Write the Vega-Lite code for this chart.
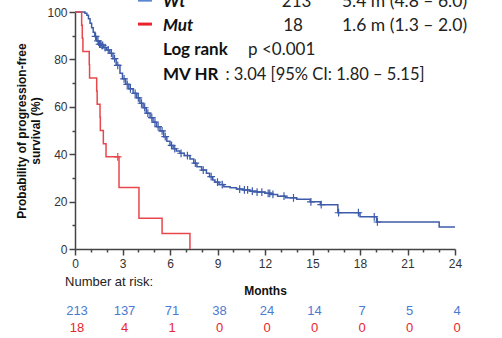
{
  "$schema": "https://vega.github.io/schema/vega-lite/v6.json",
  "autosize": {"type": "none"},
  "padding": {"left": 75, "top": 12, "right": 47, "bottom": 89},
  "background": "white",
  "width": 380,
  "height": 237,
  "config": {"view": {"stroke": null}, "axis": {"grid": false, "labelOverlap": false}},
  "resolve": {"axis": {"x": "independent", "y": "independent"}},
  "datasets": {
    "km": [
      {"group": "Wt", "month": 0, "surv": 100},
      {"group": "Wt", "month": 0.63, "surv": 99.5},
      {"group": "Wt", "month": 0.75, "surv": 98.6},
      {"group": "Wt", "month": 0.85, "surv": 97.2},
      {"group": "Wt", "month": 0.95, "surv": 95.3},
      {"group": "Wt", "month": 1.05, "surv": 93.4},
      {"group": "Wt", "month": 1.15, "surv": 91.5},
      {"group": "Wt", "month": 1.25, "surv": 89.7},
      {"group": "Wt", "month": 1.37, "surv": 87.8},
      {"group": "Wt", "month": 1.5, "surv": 86.4},
      {"group": "Wt", "month": 1.65, "surv": 85.9},
      {"group": "Wt", "month": 1.8, "surv": 85.0},
      {"group": "Wt", "month": 2.0, "surv": 84.0},
      {"group": "Wt", "month": 2.2, "surv": 82.6},
      {"group": "Wt", "month": 2.4, "surv": 80.3},
      {"group": "Wt", "month": 2.6, "surv": 77.5},
      {"group": "Wt", "month": 2.84, "surv": 74.2},
      {"group": "Wt", "month": 3.0, "surv": 71.8},
      {"group": "Wt", "month": 3.2, "surv": 69.5},
      {"group": "Wt", "month": 3.4, "surv": 67.6},
      {"group": "Wt", "month": 3.67, "surv": 65.7},
      {"group": "Wt", "month": 3.9, "surv": 63.8},
      {"group": "Wt", "month": 4.1, "surv": 61.5},
      {"group": "Wt", "month": 4.3, "surv": 59.6},
      {"group": "Wt", "month": 4.5, "surv": 57.3},
      {"group": "Wt", "month": 4.74, "surv": 55.4},
      {"group": "Wt", "month": 4.93, "surv": 53.5},
      {"group": "Wt", "month": 5.15, "surv": 51.6},
      {"group": "Wt", "month": 5.37, "surv": 49.8},
      {"group": "Wt", "month": 5.6, "surv": 47.4},
      {"group": "Wt", "month": 5.8, "surv": 45.5},
      {"group": "Wt", "month": 6.0, "surv": 43.7},
      {"group": "Wt", "month": 6.2, "surv": 42.3},
      {"group": "Wt", "month": 6.4, "surv": 41.3},
      {"group": "Wt", "month": 6.63, "surv": 40.4},
      {"group": "Wt", "month": 6.9, "surv": 39.4},
      {"group": "Wt", "month": 7.26, "surv": 38.0},
      {"group": "Wt", "month": 7.5, "surv": 36.2},
      {"group": "Wt", "month": 7.7, "surv": 34.7},
      {"group": "Wt", "month": 8.0, "surv": 33.3},
      {"group": "Wt", "month": 8.3, "surv": 32.0},
      {"group": "Wt", "month": 8.5, "surv": 30.5},
      {"group": "Wt", "month": 8.7, "surv": 29.1},
      {"group": "Wt", "month": 8.84, "surv": 28.2},
      {"group": "Wt", "month": 9.1, "surv": 27.2},
      {"group": "Wt", "month": 9.4, "surv": 26.3},
      {"group": "Wt", "month": 9.8, "surv": 25.8},
      {"group": "Wt", "month": 10.2, "surv": 25.3},
      {"group": "Wt", "month": 10.6, "surv": 24.9},
      {"group": "Wt", "month": 11.05, "surv": 24.4},
      {"group": "Wt", "month": 11.5, "surv": 24.0},
      {"group": "Wt", "month": 12.0, "surv": 23.5},
      {"group": "Wt", "month": 12.4, "surv": 23.0},
      {"group": "Wt", "month": 12.8, "surv": 22.3},
      {"group": "Wt", "month": 13.3, "surv": 21.6},
      {"group": "Wt", "month": 14.0, "surv": 21.0},
      {"group": "Wt", "month": 14.85, "surv": 19.9},
      {"group": "Wt", "month": 15.5, "surv": 18.7},
      {"group": "Wt", "month": 16.6, "surv": 15.3},
      {"group": "Wt", "month": 18.0, "surv": 13.6},
      {"group": "Wt", "month": 19.05, "surv": 11.4},
      {"group": "Wt", "month": 23.0, "surv": 9.3},
      {"group": "Wt", "month": 24.0, "surv": 9.3},
      {"group": "Mut", "month": 0, "surv": 100},
      {"group": "Mut", "month": 0.42, "surv": 94.4},
      {"group": "Mut", "month": 0.46, "surv": 88.9},
      {"group": "Mut", "month": 0.5, "surv": 83.3},
      {"group": "Mut", "month": 0.9, "surv": 77.8},
      {"group": "Mut", "month": 0.92, "surv": 72.2},
      {"group": "Mut", "month": 1.37, "surv": 66.7},
      {"group": "Mut", "month": 1.4, "surv": 61.1},
      {"group": "Mut", "month": 1.58, "surv": 55.6},
      {"group": "Mut", "month": 1.6, "surv": 50.0},
      {"group": "Mut", "month": 1.79, "surv": 44.4},
      {"group": "Mut", "month": 1.96, "surv": 38.9},
      {"group": "Mut", "month": 2.78, "surv": 25.9},
      {"group": "Mut", "month": 4.04, "surv": 13.0},
      {"group": "Mut", "month": 5.5, "surv": 6.5},
      {"group": "Mut", "month": 7.26, "surv": 0}
    ],
    "censor": [
      {"group": "Wt", "month": 1.3, "surv": 89.7},
      {"group": "Wt", "month": 1.45, "surv": 87.8},
      {"group": "Wt", "month": 1.55, "surv": 86.4},
      {"group": "Wt", "month": 1.6, "surv": 86.4},
      {"group": "Wt", "month": 1.7, "surv": 85.9},
      {"group": "Wt", "month": 1.75, "surv": 85.9},
      {"group": "Wt", "month": 1.9, "surv": 85.0},
      {"group": "Wt", "month": 2.1, "surv": 84.0},
      {"group": "Wt", "month": 2.3, "surv": 82.6},
      {"group": "Wt", "month": 2.5, "surv": 80.3},
      {"group": "Wt", "month": 2.7, "surv": 77.5},
      {"group": "Wt", "month": 3.1, "surv": 71.8},
      {"group": "Wt", "month": 3.3, "surv": 69.5},
      {"group": "Wt", "month": 3.5, "surv": 67.6},
      {"group": "Wt", "month": 3.8, "surv": 65.7},
      {"group": "Wt", "month": 4.0, "surv": 63.8},
      {"group": "Wt", "month": 4.2, "surv": 61.5},
      {"group": "Wt", "month": 4.4, "surv": 59.6},
      {"group": "Wt", "month": 4.6, "surv": 57.3},
      {"group": "Wt", "month": 4.85, "surv": 55.4},
      {"group": "Wt", "month": 5.05, "surv": 53.5},
      {"group": "Wt", "month": 5.25, "surv": 51.6},
      {"group": "Wt", "month": 5.5, "surv": 49.8},
      {"group": "Wt", "month": 5.7, "surv": 47.4},
      {"group": "Wt", "month": 6.1, "surv": 43.7},
      {"group": "Wt", "month": 6.3, "surv": 42.3},
      {"group": "Wt", "month": 6.7, "surv": 40.4},
      {"group": "Wt", "month": 7.1, "surv": 39.4},
      {"group": "Wt", "month": 7.6, "surv": 36.2},
      {"group": "Wt", "month": 8.1, "surv": 33.3},
      {"group": "Wt", "month": 8.6, "surv": 30.5},
      {"group": "Wt", "month": 9.0, "surv": 28.2},
      {"group": "Wt", "month": 9.3, "surv": 27.2},
      {"group": "Wt", "month": 10.4, "surv": 25.3},
      {"group": "Wt", "month": 10.7, "surv": 24.9},
      {"group": "Wt", "month": 10.9, "surv": 24.9},
      {"group": "Wt", "month": 11.2, "surv": 24.4},
      {"group": "Wt", "month": 11.5, "surv": 24.0},
      {"group": "Wt", "month": 11.8, "surv": 24.0},
      {"group": "Wt", "month": 12.2, "surv": 23.5},
      {"group": "Wt", "month": 12.3, "surv": 23.5},
      {"group": "Wt", "month": 12.5, "surv": 23.0},
      {"group": "Wt", "month": 13.2, "surv": 22.3},
      {"group": "Wt", "month": 13.8, "surv": 21.6},
      {"group": "Wt", "month": 14.9, "surv": 19.9},
      {"group": "Wt", "month": 15.55, "surv": 18.7},
      {"group": "Wt", "month": 16.65, "surv": 15.3},
      {"group": "Wt", "month": 17.9, "surv": 15.3},
      {"group": "Wt", "month": 18.9, "surv": 13.6},
      {"group": "Wt", "month": 19.1, "surv": 11.4},
      {"group": "Mut", "month": 2.7, "surv": 38.9}
    ],
    "risk": [
      {"group": "Wt", "month": 0, "n": 213},
      {"group": "Wt", "month": 3, "n": 137},
      {"group": "Wt", "month": 6, "n": 71},
      {"group": "Wt", "month": 9, "n": 38},
      {"group": "Wt", "month": 12, "n": 24},
      {"group": "Wt", "month": 15, "n": 14},
      {"group": "Wt", "month": 18, "n": 7},
      {"group": "Wt", "month": 21, "n": 5},
      {"group": "Wt", "month": 24, "n": 4},
      {"group": "Mut", "month": 0, "n": 18},
      {"group": "Mut", "month": 3, "n": 4},
      {"group": "Mut", "month": 6, "n": 1},
      {"group": "Mut", "month": 9, "n": 0},
      {"group": "Mut", "month": 12, "n": 0},
      {"group": "Mut", "month": 15, "n": 0},
      {"group": "Mut", "month": 18, "n": 0},
      {"group": "Mut", "month": 21, "n": 0},
      {"group": "Mut", "month": 24, "n": 0}
    ]
  },
  "layer": [
    {
      "data": {"name": "km"},
      "mark": {"type": "line", "interpolate": "step-after", "strokeWidth": 1.5, "clip": false},
      "encoding": {
        "x": {
          "field": "month", "type": "quantitative",
          "scale": {"domain": [0, 24], "nice": false},
          "axis": {
            "orient": "bottom",
            "values": [0,3,6,9,12,15,18,21,24],
            "labelOverlap": false,
            "tickSize": 6,
            "tickColor": "#444", "domainColor": "#444", "tickWidth": 1.5, "domainWidth": 1.5,
            "labelFont": "Liberation Sans", "labelFontSize": 12, "labelColor": "#333", "labelPadding": 3, "labelFlush": false,
            "title": "Months", "titleFont": "Liberation Sans", "titleFontSize": 12, "titleFontWeight": "bold", "titleColor": "#111", "titlePadding": 16
          }
        },
        "y": {
          "field": "surv", "type": "quantitative",
          "scale": {"domain": [0, 100], "nice": false},
          "axis": {
            "orient": "left",
            "values": [0,20,40,60,80,100],
            "labelOverlap": false,
            "tickSize": 6,
            "tickColor": "#444", "domainColor": "#444", "tickWidth": 1.5, "domainWidth": 1.5,
            "labelFont": "Liberation Sans", "labelFontSize": 12, "labelColor": "#333", "labelPadding": 2,
            "title": ["Probability of progression-free", "survival (%)"],
            "titleFont": "Liberation Sans", "titleFontSize": 12, "titleFontWeight": "bold", "titleColor": "#111", "titlePadding": 4, "titleLineHeight": 14
          }
        },
        "color": {"field": "group", "type": "nominal", "scale": {"domain": ["Wt", "Mut"], "range": ["#3f5cab", "#e8474c"]}, "legend": null}
      }
    },
    {
      "data": {"name": "censor"},
      "mark": {"type": "point", "shape": "M0,-1L0,1M-1,0L1,0", "filled": false, "size": 60, "strokeWidth": 1.2, "opacity": 1},
      "encoding": {
        "x": {
          "field": "month", "type": "quantitative",
          "axis": {"orient": "bottom", "values": [1,2,4,5,7,8,10,11,13,14,16,17,19,20,22,23], "tickSize": 3, "tickColor": "#444", "tickWidth": 1.5, "labels": false, "domain": false, "title": null}
        },
        "y": {
          "field": "surv", "type": "quantitative",
          "axis": {"orient": "left", "values": [10,30,50,70,90], "tickSize": 3, "tickColor": "#444", "tickWidth": 1.5, "labels": false, "domain": false, "title": null}
        },
        "color": {"field": "group", "type": "nominal", "scale": {"domain": ["Wt", "Mut"], "range": ["#3f5cab", "#e8474c"]}, "legend": null}
      }
    },
    {
      "data": {"name": "risk"},
      "transform": [{"filter": "datum.group === 'Wt'"}],
      "mark": {"type": "text", "font": "Liberation Sans", "fontSize": 13, "dx": 2, "color": "#4b7bd0", "baseline": "middle"},
      "encoding": {
        "x": {"field": "month", "type": "quantitative", "axis": null},
        "y": {"datum": -26.2, "type": "quantitative", "axis": null},
        "text": {"field": "n", "type": "quantitative"}
      }
    },
    {
      "data": {"name": "risk"},
      "transform": [{"filter": "datum.group === 'Mut'"}],
      "mark": {"type": "text", "font": "Liberation Sans", "fontSize": 13, "dx": 2, "color": "#e8262d", "baseline": "middle"},
      "encoding": {
        "x": {"field": "month", "type": "quantitative", "axis": null},
        "y": {"datum": -33.3, "type": "quantitative", "axis": null},
        "text": {"field": "n", "type": "quantitative"}
      }
    },
    {
      "data": {"values": [{}]},
      "mark": {"type": "text", "text": "Number at risk:", "font": "Liberation Sans", "fontSize": 13, "align": "left", "baseline": "middle", "color": "#222"},
      "encoding": {"x": {"datum": -0.63, "type": "quantitative", "axis": null}, "y": {"datum": -13.9, "type": "quantitative", "axis": null}}
    },
    {
      "data": {"values": [{}]},
      "mark": {"type": "rule", "strokeWidth": 3, "color": "#5a86d4"},
      "encoding": {"x": {"datum": 3.98, "type": "quantitative", "axis": null}, "x2": {"datum": 4.86}, "y": {"datum": 105, "type": "quantitative", "axis": null}}
    },
    {
      "data": {"values": [{}]},
      "mark": {"type": "rule", "strokeWidth": 3, "color": "#e8232b"},
      "encoding": {"x": {"datum": 3.98, "type": "quantitative", "axis": null}, "x2": {"datum": 4.86}, "y": {"datum": 94.9, "type": "quantitative", "axis": null}}
    },
    {
      "data": {"values": [{}]},
      "mark": {"type": "text", "text": "Wt", "font": "Lato", "fontSize": 17, "fontWeight": "bold", "fontStyle": "italic", "align": "left", "baseline": "middle", "color": "#111"},
      "encoding": {"x": {"datum": 5.56, "type": "quantitative", "axis": null}, "y": {"datum": 104.4, "type": "quantitative", "axis": null}}
    },
    {
      "data": {"values": [{}]},
      "mark": {"type": "text", "text": "Mut", "font": "Lato", "fontSize": 17, "fontWeight": "bold", "fontStyle": "italic", "align": "left", "baseline": "middle", "color": "#111"},
      "encoding": {"x": {"datum": 5.56, "type": "quantitative", "axis": null}, "y": {"datum": 94.1, "type": "quantitative", "axis": null}}
    },
    {
      "data": {"values": [{}]},
      "mark": {"type": "text", "text": "213", "font": "Lato", "fontSize": 17, "align": "center", "baseline": "middle", "color": "#222"},
      "encoding": {"x": {"datum": 14.0, "type": "quantitative", "axis": null}, "y": {"datum": 104.4, "type": "quantitative", "axis": null}}
    },
    {
      "data": {"values": [{}]},
      "mark": {"type": "text", "text": "18", "font": "Lato", "fontSize": 17, "align": "center", "baseline": "middle", "color": "#222"},
      "encoding": {"x": {"datum": 13.77, "type": "quantitative", "axis": null}, "y": {"datum": 94.1, "type": "quantitative", "axis": null}}
    },
    {
      "data": {"values": [{}]},
      "mark": {"type": "text", "text": "5.4 m (4.8 – 6.0)", "font": "Lato", "fontSize": 17.5, "align": "left", "baseline": "middle", "color": "#222"},
      "encoding": {"x": {"datum": 16.86, "type": "quantitative", "axis": null}, "y": {"datum": 104.4, "type": "quantitative", "axis": null}}
    },
    {
      "data": {"values": [{}]},
      "mark": {"type": "text", "text": "1.6 m (1.3 – 2.0)", "font": "Lato", "fontSize": 17.5, "align": "left", "baseline": "middle", "color": "#222"},
      "encoding": {"x": {"datum": 16.86, "type": "quantitative", "axis": null}, "y": {"datum": 94.1, "type": "quantitative", "axis": null}}
    },
    {
      "data": {"values": [{}]},
      "mark": {"type": "text", "text": "Log rank", "font": "Lato", "fontSize": 17, "fontWeight": "bold", "align": "left", "baseline": "middle", "color": "#111"},
      "encoding": {"x": {"datum": 5.56, "type": "quantitative", "axis": null}, "y": {"datum": 83.8, "type": "quantitative", "axis": null}}
    },
    {
      "data": {"values": [{}]},
      "mark": {"type": "text", "text": "p <0.001", "font": "Lato", "fontSize": 17, "align": "left", "baseline": "middle", "color": "#222"},
      "encoding": {"x": {"datum": 10.93, "type": "quantitative", "axis": null}, "y": {"datum": 83.8, "type": "quantitative", "axis": null}}
    },
    {
      "data": {"values": [{}]},
      "mark": {"type": "text", "text": "MV HR", "font": "Lato", "fontSize": 17, "fontWeight": "bold", "align": "left", "baseline": "middle", "color": "#111"},
      "encoding": {"x": {"datum": 5.56, "type": "quantitative", "axis": null}, "y": {"datum": 73.4, "type": "quantitative", "axis": null}}
    },
    {
      "data": {"values": [{}]},
      "mark": {"type": "text", "text": ": 3.04 [95% CI: 1.80 – 5.15]", "font": "Lato", "fontSize": 16.5, "align": "left", "baseline": "middle", "color": "#222"},
      "encoding": {"x": {"datum": 9.5, "type": "quantitative", "axis": null}, "y": {"datum": 73.4, "type": "quantitative", "axis": null}}
    }
  ]
}
